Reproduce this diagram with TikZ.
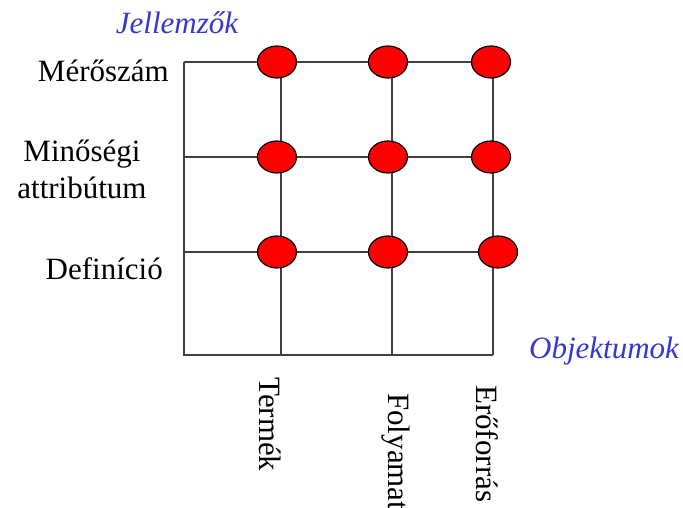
\documentclass[tikz,border=0pt]{standalone}
\usepackage{fontspec}
\setmainfont{Liberation Serif}
\usetikzlibrary{shapes.geometric,backgrounds}
\definecolor{axisblue}{RGB}{55,55,205}
\definecolor{gridgrey}{RGB}{64,64,64}
\tikzset{
  dot/.style={ellipse,draw=black,line width=1.2pt,fill=red,minimum width=39pt,minimum height=32pt,inner sep=0pt},
  gridline/.style={draw=gridgrey,line width=1.4pt},
  lbl/.style={font=\fontsize{31}{37}\selectfont,inner sep=0pt},
  axis/.style={lbl,text=axisblue,font=\fontsize{31}{37}\selectfont\itshape},
}
\begin{document}
\begin{tikzpicture}[x=1pt,y=-1pt]
\useasboundingbox (0,0) rectangle (683,508);
% corner and axis coordinates
\coordinate (l1) at (184,62);
\coordinate (l2) at (184,157);
\coordinate (l3) at (184,252);
\coordinate (o) at (184,355);
\coordinate (b1) at (281,355);
\coordinate (b2) at (392,355);
\coordinate (b3) at (493,355);
% ellipses
\node[dot] (e11) at (277,62) {};
\node[dot] (e12) at (388,62) {};
\node[dot] (e13) at (491,62) {};
\node[dot] (e21) at (277,157) {};
\node[dot] (e22) at (388,157) {};
\node[dot] (e23) at (491,157) {};
\node[dot] (e31) at (277,252) {};
\node[dot] (e32) at (388,252) {};
\node[dot] (e33) at (498,252) {};
\begin{scope}[on background layer]
  \draw[gridline] (l1) -- (o) -- (b3);
  \draw[gridline] (l1) -- (e13.center);
  \draw[gridline] (l2) -- (e23.center);
  \draw[gridline] (l3) -- (e33.center);
  \draw[gridline] (b1) -- (b1 |- e11.center);
  \draw[gridline] (b2) -- (b2 |- e12.center);
  \draw[gridline] (b3) -- (b3 |- e13.center);
\end{scope}
% labels
\node[axis,anchor=base] (jel) at (177,34) {Jellemzők};
\node[axis,anchor=base west] (obj) at (529,358) {Objektumok};
\node[lbl,anchor=base east] (mer) at (169,82) {Mérőszám};
\node[lbl,anchor=base,align=center] (min) at (82,198) {Minőségi\\attribútum};
\node[lbl,anchor=base east] (def) at (163,279) {Definíció};
\node[lbl,anchor=base west,rotate=-90] (ter) at (259,377) {Termék};
\node[lbl,anchor=base west,rotate=-90] (fol) at (388,393) {Folyamat};
\node[lbl,anchor=base west,rotate=-90] (ero) at (476,385) {Erőforrás};
\end{tikzpicture}
\end{document}
